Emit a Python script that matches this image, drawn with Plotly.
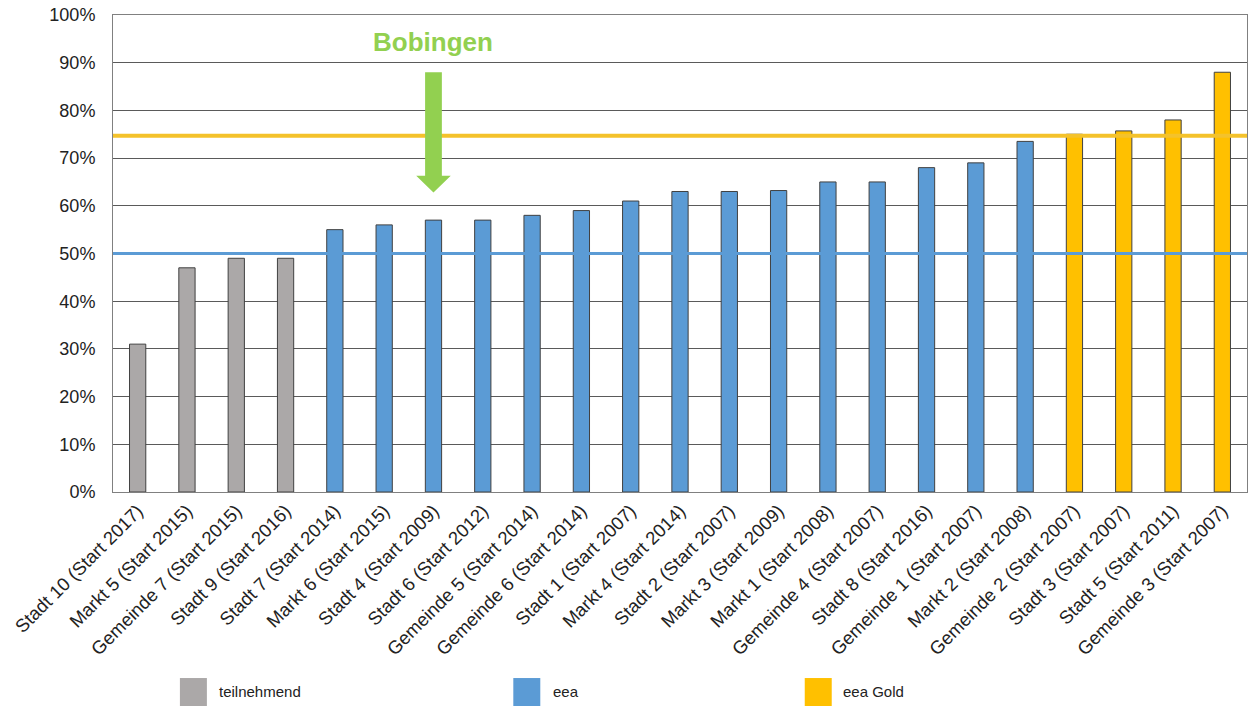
import plotly.graph_objects as go

categories = [
    "Stadt 10 (Start 2017)", "Markt 5 (Start 2015)", "Gemeinde 7 (Start 2015)", "Stadt 9 (Start 2016)",
    "Stadt 7 (Start 2014)", "Markt 6 (Start 2015)", "Stadt 4 (Start 2009)", "Stadt 6 (Start 2012)",
    "Gemeinde 5 (Start 2014)", "Gemeinde 6 (Start 2014)", "Stadt 1 (Start 2007)", "Markt 4 (Start 2014)",
    "Stadt 2 (Start 2007)", "Markt 3 (Start 2009)", "Markt 1 (Start 2008)", "Gemeinde 4 (Start 2007)",
    "Stadt 8 (Start 2016)", "Gemeinde 1 (Start 2007)", "Markt 2 (Start 2008)", "Gemeinde 2 (Start 2007)",
    "Stadt 3 (Start 2007)", "Stadt 5 (Start 2011)", "Gemeinde 3 (Start 2007)",
]
values = [31, 47, 49, 49, 55, 56, 57, 57, 58, 59, 61, 63, 63, 63.2, 65, 65, 68, 69, 73.5, 75, 75.7, 78, 88]
groups = ["teilnehmend"] * 4 + ["eea"] * 15 + ["eea Gold"] * 4
group_names = ["teilnehmend", "eea", "eea Gold"]
group_colors = {"teilnehmend": "#ABA8A8", "eea": "#5B9BD5", "eea Gold": "#FFC000"}
eea_threshold = 50
gold_threshold = 74.7
highlight = "Stadt 4 (Start 2009)"
highlight_label = "Bobingen"

FONT = "Liberation Sans, Arial, sans-serif"
idx = list(range(len(categories)))

fig = go.Figure()
for g in group_names:
    xs = [i for i in idx if groups[i] == g]
    ys = [values[i] for i in idx if groups[i] == g]
    fig.add_trace(go.Bar(
        x=xs, y=ys, name=g, width=0.33,
        marker=dict(color=group_colors[g], line=dict(color="#404040", width=1)),
        showlegend=False,
    ))

fig.add_hline(y=eea_threshold, line=dict(color="#5B9BD5", width=3), layer="above")
fig.add_hline(y=gold_threshold, line=dict(color="#F4C22B", width=4), layer="above")

# highlight arrow
hx = categories.index(highlight)
fig.add_shape(
    type="path", xref="x", yref="y",
    path=(f"M {hx-0.17},88 L {hx+0.17},88 L {hx+0.17},66.3 L {hx+0.35},66.3 "
          f"L {hx},62.8 L {hx-0.35},66.3 L {hx-0.17},66.3 Z"),
    fillcolor="#92D050", line=dict(width=0), layer="above",
)
fig.add_annotation(
    x=hx, y=94.3, xref="x", yref="y", text=f"<b>{highlight_label}</b>", showarrow=False,
    font=dict(family=FONT, size=26, color="#92D050"),
)

# legend (manual, large swatches)
legend_pos = [(0.059, 0.0917), (0.353, 0.386), (0.610, 0.642)]
for (sx, tx), g in zip(legend_pos, group_names):
    fig.add_shape(type="rect", xref="paper", yref="paper",
                  x0=sx, x1=sx + 0.0238, y0=-0.452, y1=-0.39,
                  fillcolor=group_colors[g], line=dict(width=0))
    fig.add_annotation(xref="paper", yref="paper", x=tx, y=-0.419,
                       text=g, showarrow=False, xanchor="left", yanchor="middle",
                       font=dict(family=FONT, size=15, color="#222"))

fig.update_layout(
    width=1249, height=706,
    margin=dict(l=113, r=2, t=15, b=214),
    plot_bgcolor="white", paper_bgcolor="white",
    font=dict(family=FONT, size=18, color="#222"),
)
fig.update_xaxes(
    tickmode="array", tickvals=idx, ticktext=categories, tickangle=-45,
    range=[-0.5, len(categories) - 0.5],
    showline=True, linecolor="#808080", linewidth=1, mirror=True,
    showgrid=False, ticks="", tickfont=dict(size=18.5, family=FONT, color="#222"),
)
fig.update_yaxes(
    range=[0, 100], dtick=10, ticksuffix="%",
    showgrid=True, gridcolor="#5a5a5a", gridwidth=1,
    showline=True, linecolor="#808080", linewidth=1, mirror=True,
    zeroline=False, ticks="", ticklabelstandoff=13,
    tickfont=dict(size=18, family=FONT, color="#222"),
)

fig.write_html("out.html")
